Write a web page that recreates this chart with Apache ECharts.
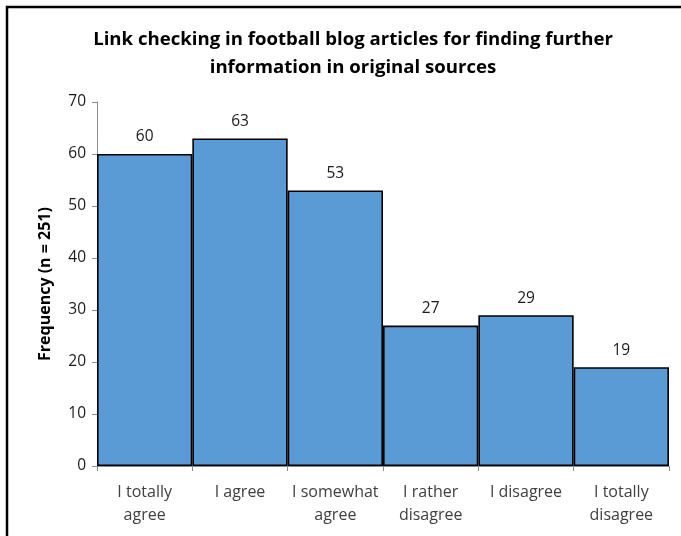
<!DOCTYPE html>
<html>
<head>
<meta charset="utf-8">
<script src="https://cdn.jsdelivr.net/npm/echarts@6/dist/echarts.min.js"></script>
<style>
  html, body { margin: 0; padding: 0; background: #fff; }
  #chart { width: 681px; height: 536px; }
</style>
</head>
<body>
<div id="chart"></div>
<script>
// Answer categories and frequencies
const categories = ['I totally\nagree', 'I agree', 'I somewhat\nagree', 'I rather\ndisagree', 'I disagree', 'I totally\ndisagree'];
const frequencies = [60, 63, 53, 27, 29, 19];
const yTicks = [0, 10, 20, 30, 40, 50, 60, 70];

const FONT = '"Open Sans", "Noto Sans", sans-serif';
const chart = echarts.init(document.getElementById('chart'), null, { renderer: 'canvas' });

chart.setOption({
  backgroundColor: '#ffffff',
  animation: false,
  graphic: [{
    type: 'rect',
    shape: { x: 7, y: 7, width: 800, height: 700 },
    style: { fill: 'none', stroke: '#000', lineWidth: 2.5 },
    silent: true
  }],
  title: {
    text: 'Link checking in football blog articles for finding further\ninformation in original sources',
    left: 348,
    textAlign: 'center',
    top: 21,
    textStyle: { fontFamily: FONT, fontSize: 18.6, fontWeight: 'bold', color: '#000', lineHeight: 28 }
  },
  grid: { left: 97, right: 12, top: 102, bottom: 70, containLabel: false },
  xAxis: {
    type: 'category',
    data: categories,
    axisLine: { lineStyle: { color: '#8c8c8c', width: 1 } },
    axisTick: { show: true, alignWithLabel: false, length: 5, lineStyle: { color: '#8c8c8c' } },
    axisLabel: { fontFamily: FONT, fontSize: 16, color: '#404040', lineHeight: 23, margin: 15, interval: 0 }
  },
  yAxis: {
    type: 'value',
    min: 0, max: 70, interval: 10,
    name: 'Frequency (n = 251)',
    nameLocation: 'middle',
    nameGap: 44,
    nameRotate: 90,
    nameTextStyle: { fontFamily: FONT, fontSize: 16, fontWeight: 'bold', color: '#000' },
    splitLine: { show: false },
    axisLine: { show: true, lineStyle: { color: '#8c8c8c', width: 1 } },
    axisTick: { show: true, length: 5, lineStyle: { color: '#8c8c8c' } },
    axisLabel: {
      fontFamily: FONT, fontSize: 15.5, color: '#1a1a1a', margin: 11,
      formatter: v => (yTicks.includes(v) ? String(v) : '')
    }
  },
  series: [{
    type: 'bar',
    data: frequencies,
    barCategoryGap: '0%',
    itemStyle: { color: '#5b9bd5', borderColor: '#000', borderWidth: 1.6 },
    label: {
      show: true, position: 'top', distance: 9,
      fontFamily: FONT, fontSize: 15.5, color: '#1a1a1a'
    }
  }]
});
</script>
</body>
</html>
